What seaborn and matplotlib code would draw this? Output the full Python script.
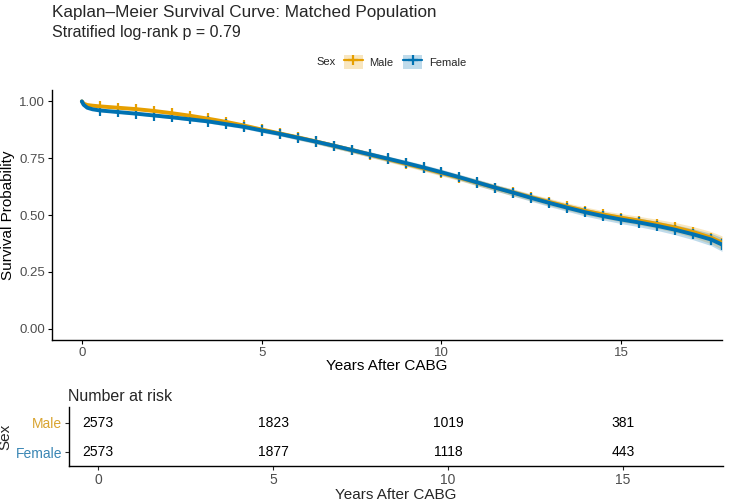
from matplotlib import pyplot as plt
from matplotlib.lines import Line2D
from matplotlib.patches import Patch
from matplotlib.legend_handler import HandlerTuple
import pandas as pd
import seaborn as sns

# survival curve knots (years, probability)
years = [0.0, 0.05, 0.15, 0.3, 0.5, 1.0, 1.5, 2.0, 2.5, 3.0, 3.5, 4.0, 4.5, 5.0, 5.5, 6.0,
         6.5, 7.0, 7.5, 8.0, 8.5, 9.0, 9.5, 10.0, 10.5, 11.0, 11.5, 12.0, 12.5, 13.0, 13.5,
         14.0, 14.5, 15.0, 15.5, 16.0, 16.5, 17.0, 17.5, 17.8]
surv_male = [1.000, 0.990, 0.984, 0.981, 0.978, 0.972, 0.966, 0.958, 0.948, 0.937, 0.924,
             0.910, 0.894, 0.876, 0.859, 0.842, 0.824, 0.805, 0.786, 0.766, 0.746, 0.726,
             0.706, 0.685, 0.664, 0.642, 0.620, 0.599, 0.578, 0.557, 0.537, 0.518, 0.502,
             0.488, 0.475, 0.461, 0.445, 0.425, 0.400, 0.378]
surv_female = [1.000, 0.985, 0.972, 0.965, 0.960, 0.953, 0.946, 0.938, 0.930, 0.921, 0.912,
               0.900, 0.888, 0.872, 0.857, 0.840, 0.823, 0.805, 0.786, 0.767, 0.748, 0.729,
               0.709, 0.688, 0.666, 0.643, 0.620, 0.598, 0.575, 0.553, 0.532, 0.512, 0.495,
               0.480, 0.467, 0.452, 0.435, 0.415, 0.392, 0.370]
# half width of the confidence band at each knot
ci_half = [0.000, 0.002, 0.003, 0.004, 0.004, 0.005, 0.005, 0.006, 0.006, 0.007, 0.007,
           0.008, 0.008, 0.009, 0.009, 0.010, 0.010, 0.011, 0.011, 0.012, 0.012, 0.012,
           0.013, 0.013, 0.013, 0.014, 0.014, 0.015, 0.015, 0.016, 0.016, 0.017, 0.017,
           0.018, 0.019, 0.020, 0.022, 0.024, 0.027, 0.030]

# number at risk table
risk_times = [0, 5, 10, 15]
risk_male = [2573, 1823, 1019, 381]
risk_female = [2573, 1877, 1118, 443]

groups = ['Male', 'Female']
colors = {'Male': '#E69F00', 'Female': '#0072B2'}
label_colors = {'Male': '#D9A430', 'Female': '#3A86B4'}

font = ['Liberation Sans', 'DejaVu Sans']

sns.set_theme(style='ticks')
plt.rcParams['font.family'] = font

df = pd.concat([
    pd.DataFrame({'time': years, 'surv': surv_male, 'ci': ci_half, 'Sex': 'Male'}),
    pd.DataFrame({'time': years, 'surv': surv_female, 'ci': ci_half, 'Sex': 'Female'}),
])
df['lower'] = df['surv'] - df['ci']
df['upper'] = df['surv'] + df['ci']

W, H = 730, 504
fig = plt.figure(figsize=(W / 100, H / 100), dpi=100)
ax = fig.add_axes([52 / W, 1 - 340 / H, (722 - 52) / W, (340 - 90) / H])

for sex in groups:
    g = df[df['Sex'] == sex]
    ax.fill_between(g['time'], g['lower'], g['upper'], color=colors[sex], alpha=0.25, lw=0)

# thick line + censor ticks, censoring is very dense in the original
sns.lineplot(data=df, x='time', y='surv', hue='Sex', hue_order=groups, palette=colors,
             estimator=None, errorbar=None, legend=False, lw=2.8, ax=ax)
censor = df[df['time'] >= 0.5]
sns.scatterplot(data=censor, x='time', y='surv', hue='Sex', hue_order=groups, palette=colors,
                marker='|', s=55, linewidth=1.6, legend=False, ax=ax)

ax.set_xlim(-0.83, 17.8)
ax.set_ylim(-0.05, 1.05)
ax.set_xticks([0, 5, 10, 15])
ax.set_yticks([0, 0.25, 0.5, 0.75, 1.0])
ax.set_yticklabels(['0.00', '0.25', '0.50', '0.75', '1.00'])
ax.set_xlabel('Years After CABG', fontsize=11, labelpad=0, color='black')
ax.set_ylabel('Survival Probability', fontsize=11, labelpad=3, color='black')
ax.tick_params(labelsize=9.5, colors='#4D4D4D', length=3, width=0.8, pad=2)
ax.tick_params(axis='both', which='both', color='black')
for side in ['top', 'right']:
    ax.spines[side].set_visible(False)
for side in ['left', 'bottom']:
    ax.spines[side].set_linewidth(1.0)
    ax.spines[side].set_color('black')

# titles
fig.text(52 / W, 1 - 12 / H, 'Kaplan\u2013Meier Survival Curve: Matched Population',
         fontsize=12.3, ha='left', va='center')
fig.text(52 / W, 1 - 32 / H, 'Stratified log-rank p = 0.79', fontsize=11.5,
         ha='left', va='center')

# legend on top
fig.text(316 / W, 1 - 62 / H, 'Sex', fontsize=8, ha='left', va='center')
handles = [(Patch(facecolor=colors[s], alpha=0.25, lw=0),
            Line2D([], [], color=colors[s], lw=1.6, marker='+', markersize=7, mew=1.6))
           for s in groups]
fig.legend(handles, groups, ncol=2, frameon=False, fontsize=8,
           handler_map={tuple: HandlerTuple(ndivide=1)},
           handlelength=1.7, handleheight=1.6, handletextpad=0.6, columnspacing=0.9,
           loc='center', bbox_to_anchor=(405 / W, 1 - 62 / H))

# number at risk table
rax = fig.add_axes([69 / W, 1 - 466 / H, (723 - 69) / W, (466 - 407) / H])
for row, counts in enumerate([risk_male, risk_female]):
    for t, n in zip(risk_times, counts):
        rax.text(t, row, str(n), ha='center', va='center', fontsize=10, color='black')
rax.set_xlim(-0.83, 17.86)
rax.set_ylim(1.48, -0.55)
rax.set_xticks(risk_times)
rax.set_yticks([0, 1])
rax.set_yticklabels(groups, fontsize=10)
for lab, sex in zip(rax.get_yticklabels(), groups):
    lab.set_color(label_colors[sex])
rax.tick_params(axis='x', labelsize=10, labelcolor='#4D4D4D', length=3, width=0.8, pad=2)
rax.tick_params(axis='y', length=3, width=0.8, pad=2)
rax.set_xlabel('Years After CABG', fontsize=11, labelpad=1)
rax.set_ylabel('Sex', fontsize=11, labelpad=2)
rax.set_title('Number at risk', fontsize=11.5, loc='left', pad=4, x=-0.002)
for side in ['top', 'right']:
    rax.spines[side].set_visible(False)
for side in ['left', 'bottom']:
    rax.spines[side].set_linewidth(1.0)
    rax.spines[side].set_color('black')

fig.savefig('out.png', dpi=100)
